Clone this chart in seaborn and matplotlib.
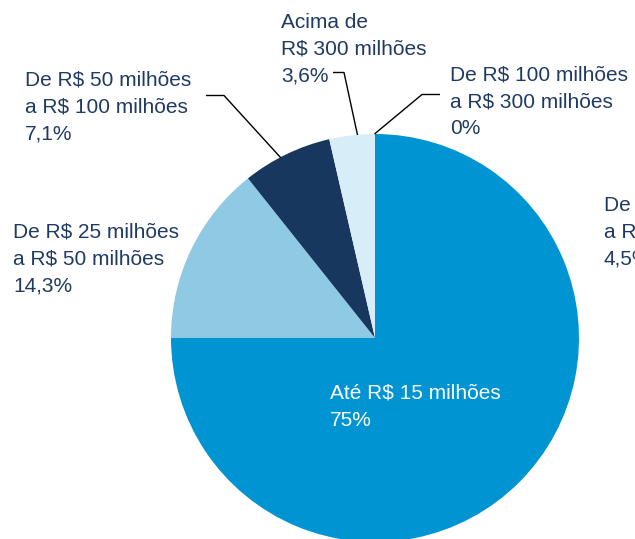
import matplotlib
matplotlib.use("Agg")
import matplotlib.pyplot as plt
import seaborn as sns

# Faixas de receita e participação (%)
categorias = [
    "Até R$ 15 milhões",
    "De R$ 15 milhões\na R$ 25 milhões",
    "De R$ 25 milhões\na R$ 50 milhões",
    "De R$ 50 milhões\na R$ 100 milhões",
    "Acima de\nR$ 300 milhões",
    "De R$ 100 milhões\na R$ 300 milhões",
]
valores = [75.0, 4.5, 14.3, 7.1, 3.6, 0.0]
rotulos_pct = ["75%", "4,5%", "14,3%", "7,1%", "3,6%", "0%"]
# faixas que aparecem como fatias, na ordem horária a partir do topo
fatias = [0, 2, 3, 4, 5]

sns.set_style("white")
plt.rcParams["font.family"] = ["Liberation Sans", "DejaVu Sans"]

cores = {0: "#0094D3", 2: "#8ECAE4", 3: "#17375E", 4: "#D7EEF8", 5: "#BFE3F3"}
texto_cor = "#1F3A63"

W, H = 635, 539
fig = plt.figure(figsize=(W / 100, H / 100), dpi=100)
ax = fig.add_axes([0, 0, 1, 1])

cx, cy, r = 375, H - 338, 204
ax.pie(
    [valores[i] for i in fatias],
    colors=[cores[i] for i in fatias],
    startangle=90,
    counterclock=False,
    center=(cx, cy),
    radius=r,
    frame=True,
    wedgeprops=dict(linewidth=0),
)
ax.set_xlim(0, W)
ax.set_ylim(0, H)
ax.set_aspect("equal")
ax.axis("off")

fs = 15
ls = 1.53

def rotulo(i, x, y_top, color=texto_cor):
    ax.text(x, H - y_top, f"{categorias[i]}\n{rotulos_pct[i]}", ha="left", va="top",
            fontsize=fs, color=color, linespacing=ls, clip_on=False)

rotulo(4, 281, 13)
rotulo(5, 450, 65.5)
rotulo(1, 604, 195.5)
rotulo(3, 25, 70.5)
rotulo(2, 13, 222.5)
rotulo(0, 330, 384, color="white")

# linhas de chamada
def chamada(pts):
    xs = [p[0] for p in pts]
    ys = [H - p[1] for p in pts]
    ax.plot(xs, ys, color="black", linewidth=1.0, solid_capstyle="butt")

chamada([(333, 72.5), (344, 72.5), (357.5, 135)])
chamada([(440, 94.5), (422, 94.5), (374.5, 134)])
chamada([(206, 95.5), (224, 95.5), (281, 158)])

fig.savefig("out.png", dpi=100)
